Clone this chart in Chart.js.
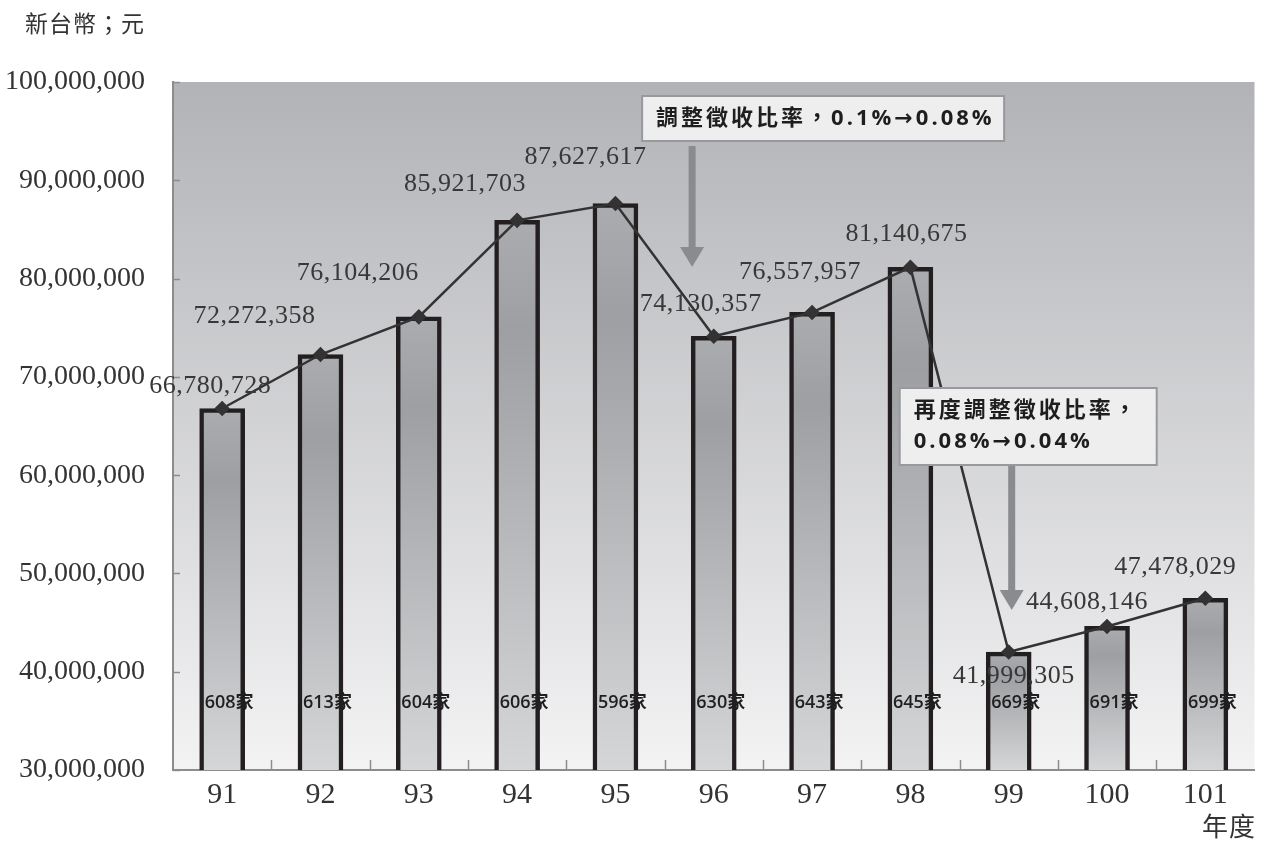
<!DOCTYPE html>
<html>
<head>
<meta charset="utf-8">
<script src="https://cdn.jsdelivr.net/npm/chart.js@4.4.1/dist/chart.umd.min.js"></script>
<style>
  html, body { margin: 0; padding: 0; background: #fff; }
  #chart { display: block; }
</style>
</head>
<body>
<canvas id="chart" width="1263" height="841"></canvas>
<script>
// 年度
const years = ['91', '92', '93', '94', '95', '96', '97', '98', '99', '100', '101'];
// 新台幣；元
const revenue = [66780728, 72272358, 76104206, 85921703, 87627617, 74130357,
                 76557957, 81140675, 41999305, 44608146, 47478029];
// 家數
const firms = [608, 613, 604, 606, 596, 630, 643, 645, 669, 691, 699];

const yMin = 30000000;
const yMax = 100000000;
const yStep = 10000000;

const unitText = '新台幣；元';
const yearText = '年度';
const note1 = ['調整徵收比率，0.1%→0.08%'];
const note2 = ['再度調整徵收比率，', '0.08%→0.04%'];

// where each value label sits relative to its point (px)
const labelNudge = [[-12, -22], [-66, -38], [-61, -44], [-52, -36], [-30, -46], [-13, -32],
                    [-12, -40], [-4, -33], [5, 24], [-20, -24], [-30, -31]];

const serif = "'Liberation Serif', 'DejaVu Serif', serif";
const cjk = "'Noto Sans CJK TC', 'Noto Sans', sans-serif";
const noteFont = "'Open Sans', 'DejaVu Sans', 'Noto Sans CJK TC', sans-serif";

function fmt(n) {
  return n.toLocaleString('en-US');
}

function barFill(context) {
  const chart = context.chart;
  const area = chart.chartArea;
  if (!area) return '#aaa';
  const top = chart.scales.y.getPixelForValue(revenue[context.dataIndex]);
  const g = chart.ctx.createLinearGradient(0, top, 0, area.bottom);
  g.addColorStop(0, '#abacb0');
  g.addColorStop(0.2, '#9d9fa2');
  g.addColorStop(1, '#d5d6d8');
  return g;
}

function drawArrow(ctx, x, y0, y1) {
  ctx.save();
  ctx.fillStyle = '#8a8b8f';
  ctx.fillRect(x - 3.5, y0, 7, y1 - y0 - 20);
  ctx.beginPath();
  ctx.moveTo(x - 12, y1 - 20);
  ctx.lineTo(x + 12, y1 - 20);
  ctx.lineTo(x, y1);
  ctx.closePath();
  ctx.fill();
  ctx.restore();
}

function drawNote(ctx, lines, left, top, w, h, lineGap) {
  ctx.save();
  ctx.fillStyle = '#eeeeef';
  ctx.fillRect(left, top, w, h);
  ctx.strokeStyle = '#98999c';
  ctx.lineWidth = 2;
  ctx.strokeRect(left, top, w, h);
  ctx.fillStyle = '#1e1e1e';
  ctx.font = 'bold 22px ' + noteFont;
  ctx.textBaseline = 'middle';
  ctx.textAlign = 'left';
  if ('letterSpacing' in ctx) ctx.letterSpacing = '3px';
  const startY = top + h / 2 - (lines.length - 1) * lineGap / 2;
  lines.forEach((t, i) => ctx.fillText(t, left + 14, startY + i * lineGap));
  ctx.restore();
}

const decor = {
  id: 'decor',
  beforeDraw(chart) {
    const { ctx, chartArea: a } = chart;
    ctx.save();
    ctx.fillStyle = '#fff';
    ctx.fillRect(0, 0, chart.width, chart.height);
    const g = ctx.createLinearGradient(0, a.top, 0, a.bottom);
    g.addColorStop(0, '#b2b3b7');
    g.addColorStop(1, '#f3f3f4');
    ctx.fillStyle = g;
    ctx.fillRect(a.left, a.top, a.right - a.left, a.bottom - a.top);
    ctx.restore();
  },
  afterDatasetsDraw(chart) {
    const { ctx, chartArea: a } = chart;
    const x = chart.scales.x, y = chart.scales.y;
    const step = x.getPixelForValue(1) - x.getPixelForValue(0);
    const xAt = f => x.getPixelForValue(0) + f * step;

    ctx.save();
    // tick marks inside the plot
    ctx.strokeStyle = '#8c8c8c';
    ctx.lineWidth = 1.5;
    for (let v = yMin; v <= yMax; v += yStep) {
      const py = Math.round(y.getPixelForValue(v)) + 0.5;
      ctx.beginPath();
      ctx.moveTo(a.left, py);
      ctx.lineTo(a.left + 7, py);
      ctx.stroke();
    }
    for (let i = 0; i < years.length - 1; i++) {
      const px = Math.round(xAt(i + 0.5)) + 0.5;
      ctx.beginPath();
      ctx.moveTo(px, a.bottom);
      ctx.lineTo(px, a.bottom - 10);
      ctx.stroke();
    }

    // firm counts inside the bars
    ctx.fillStyle = '#1f1f1f';
    ctx.font = "600 18px 'Open Sans', " + cjk;
    ctx.textAlign = 'center';
    ctx.textBaseline = 'middle';
    firms.forEach((n, i) => {
      ctx.fillText(n + '家', xAt(i) + 7, y.getPixelForValue(yMin + 6800000));
    });

    // value labels
    ctx.fillStyle = '#383838';
    ctx.font = '26px ' + serif;
    if ('letterSpacing' in ctx) ctx.letterSpacing = '0.5px';
    revenue.forEach((v, i) => {
      const [dx, dy] = labelNudge[i];
      ctx.fillText(fmt(v), xAt(i) + dx, y.getPixelForValue(v) + dy);
    });
    ctx.restore();

    // notes with arrows
    const ax1 = xAt(4.78);
    drawNote(ctx, note1, ax1 - 50, 96, 362, 45, 0);
    drawArrow(ctx, ax1, 146, 267);
    const ax2 = xAt(8) + 3;
    drawNote(ctx, note2, ax2 - 112, 388, 257, 77, 31);
    drawArrow(ctx, ax2, 466, 610);

    // unit texts
    ctx.save();
    ctx.fillStyle = '#333';
    ctx.textBaseline = 'middle';
    ctx.font = '23px ' + cjk;
    ctx.textAlign = 'left';
    if ('letterSpacing' in ctx) ctx.letterSpacing = '1px';
    ctx.fillText(unitText, 25, 23);
    ctx.font = '26px ' + cjk;
    ctx.textAlign = 'right';
    ctx.fillText(yearText, 1256, 826);
    ctx.restore();
  }
};

new Chart(document.getElementById('chart'), {
  data: {
    labels: years,
    datasets: [
      {
        type: 'line',
        data: revenue,
        order: 0,
        borderColor: '#333',
        borderWidth: 2.5,
        pointStyle: 'rectRot',
        pointRadius: 6,
        pointBackgroundColor: '#333',
        pointBorderColor: '#333',
        tension: 0
      },
      {
        type: 'bar',
        data: revenue,
        order: 1,
        backgroundColor: barFill,
        borderColor: '#231f20',
        borderWidth: 4.5,
        borderSkipped: false,
        barThickness: 45
      }
    ]
  },
  options: {
    responsive: false,
    animation: false,
    layout: { padding: { top: 82, right: 3, left: 0, bottom: 0 } },
    plugins: {
      legend: { display: false },
      tooltip: { enabled: false }
    },
    scales: {
      x: {
        grid: { display: false, drawTicks: false },
        border: { color: '#8c8c8c', width: 2 },
        ticks: { color: '#333', font: { family: serif, size: 30 }, padding: 7 },
        afterFit(s) { s.height = 71; }
      },
      y: {
        min: yMin,
        max: yMax,
        grid: { display: false, drawTicks: false },
        border: { color: '#8c8c8c', width: 2 },
        ticks: {
          stepSize: yStep,
          color: '#333',
          font: { family: serif, size: 28 },
          padding: 28,
          callback: v => fmt(v)
        },
        afterFit(s) { s.width = 173; }
      }
    }
  },
  plugins: [decor]
});
</script>
</body>
</html>
